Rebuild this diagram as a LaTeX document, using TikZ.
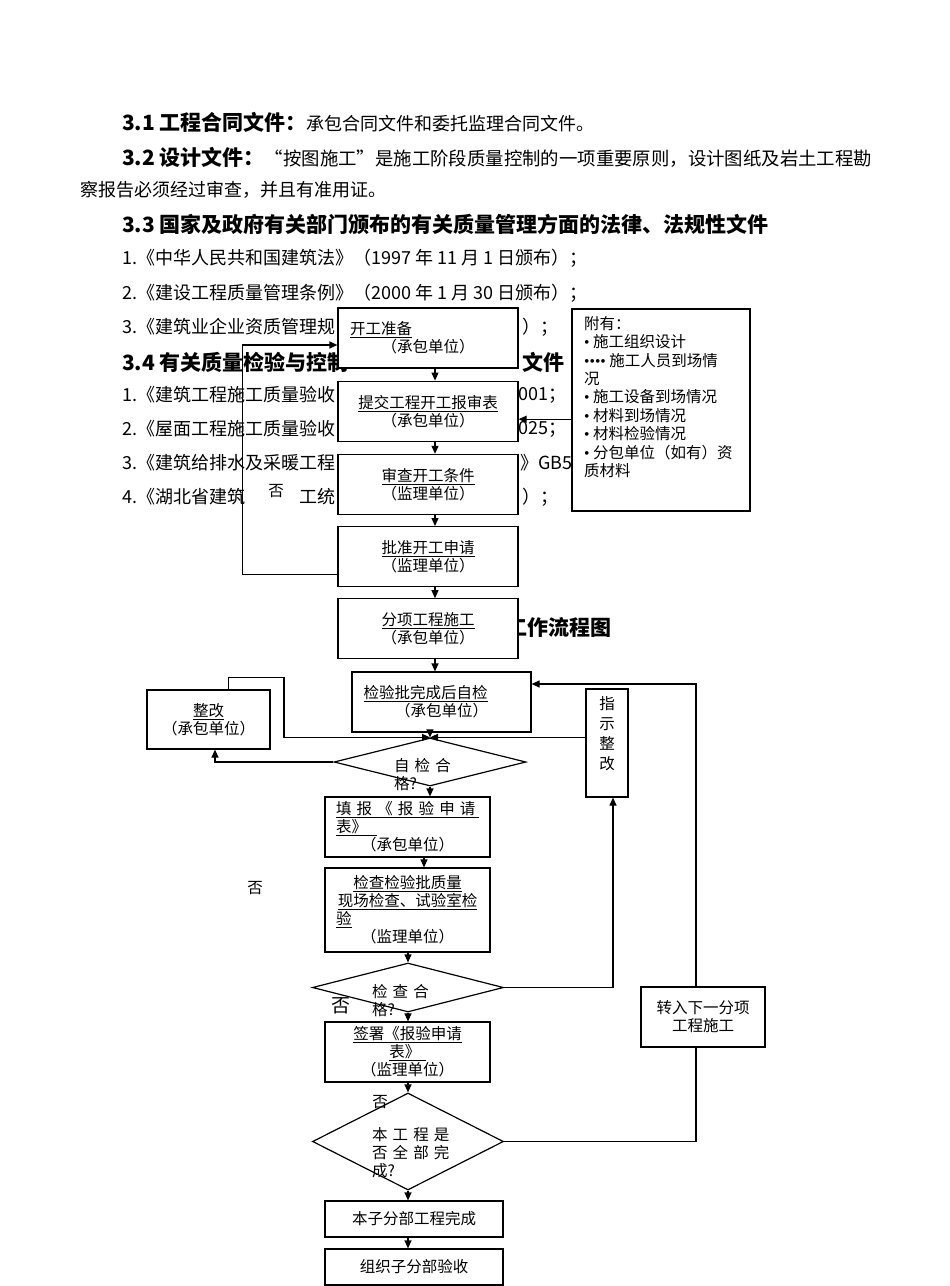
\documentclass[tikz,border=0pt]{standalone}
\usepackage{fontspec}
\setmainfont{Noto Sans CJK SC}
\newfontfamily\latinfont{Liberation Serif}
\usepackage{tikz}
\usetikzlibrary{shapes.geometric, arrows, arrows.meta, positioning}
\newcommand{\bodyfont}{\fontsize{18}{22}\selectfont}
\newcommand{\headfont}{\fontsize{21}{25}\selectfont\bfseries}
\newcommand{\flowfont}{\fontsize{15.5}{18}\selectfont}
\newcommand{\dotmark}{{\latinfont •}}
\tikzstyle{para} = [anchor=west, inner sep=0pt, font=\bodyfont]
\tikzstyle{head} = [anchor=west, inner sep=0pt, font=\headfont]
\tikzstyle{flowbox} = [rectangle, draw=black, line width=1.2pt, fill=white, minimum width=180pt, minimum height=60pt, text width=156pt, align=center, inner sep=0pt, font=\flowfont]
\tikzstyle{smallbox} = [flowbox, minimum width=165pt, text width=143pt]
\tikzstyle{decision} = [diamond, draw=black, line width=1.2pt, fill=white, inner sep=0pt]
\tikzstyle{dtext} = [text width=72pt, align=left, inner sep=0pt, font=\flowfont]
\tikzstyle{nolabel} = [inner sep=0pt, font=\flowfont]
\tikzstyle{arrow} = [line width=1.2pt, -{Triangle[length=8pt,width=7pt]}]
\tikzstyle{wire} = [line width=1.2pt]

\begin{document}
\begin{tikzpicture}[x=1pt, y=-1pt]
\useasboundingbox (0,0) rectangle (950,1286);

% page text behind the chart
\node (t31) [para] at (122,122) {{\headfont 3.1 工程合同文件：}承包合同文件和委托监理合同文件。};
\node (t32) [para] at (122,157) {{\headfont 3.2 设计文件：}{\fontsize{18.4}{22}\selectfont “按图施工”是施工阶段质量控制的一项重要原则，设计图纸及岩土工程勘}};
\node (t32b) [para] at (80,190) {察报告必须经过审查，并且有准用证。};
\node (t33) [head] at (122,224) {3.3 国家及政府有关部门颁布的有关质量管理方面的法律、法规性文件};
\node (law1) [para] at (122,258) {1.《中华人民共和国建筑法》（1997 年 11 月 1 日颁布）；};
\node (law2) [para] at (122,293) {2.《建设工程质量管理条例》（2000 年 1 月 30 日颁布）；};
\node (law3) [para] at (122,327) {3.《建筑业企业资质管理规};
\node (law3r) [para] at (522,327) {）；};
\node (t34) [head] at (122,362) {3.4 有关质量检验与控制};
\node (t34r) [head] at (522,362) {文件};
\node (std1) [para] at (122,395) {1.《建筑工程施工质量验收};
\node (std1r) [para] at (518,395) {001；};
\node (std2) [para] at (122,429) {2.《屋面工程施工质量验收};
\node (std2r) [para] at (518,429) {025；};
\node (std3) [para] at (122,463) {3.《建筑给排水及采暖工程};
\node (std3r) [para] at (520,463) {》GB5};
\node (std4) [para] at (122,497) {4.《湖北省建筑};
\node (std4m) [para] at (299,497) {工统};
\node (std4r) [para] at (522,497) {）；};
\node (t35) [head] at (506,627) {工作流程图};

% start-up column
\node (prep) [flowbox] at (428,338) {\makebox[156pt][l]{\underline{开工准备}}\\（承包单位）};
\node (submit) [flowbox, below=12pt of prep] {\underline{提交工程开工报审表}\\（承包单位）};
\node (review) [flowbox, below=12pt of submit] {\underline{审查开工条件}\\（监理单位）};
\node (approve) [flowbox, below=11pt of review] {\underline{批准开工申请}\\（监理单位）};
\node (build) [flowbox, below=11pt of approve] {\underline{分项工程施工}\\（承包单位）};
\node (selfchk) [flowbox, minimum width=179pt, below=12pt of build, xshift=13.5pt] {\makebox[156pt][l]{\underline{检验批完成后自检}}\\（承包单位）\hspace*{14pt}};
\node (attach) [flowbox, minimum width=178pt, minimum height=202pt] at (661,410) {};
\node (attachT) [anchor=north west, align=left, inner sep=0pt, font=\fontsize{15.5}{18.4}\selectfont] at (584,316) {附有：\\\dotmark\ 施工组织设计\\\dotmark\dotmark\dotmark\dotmark\ 施工人员到场情\\况\\\dotmark\ 施工设备到场情况\\\dotmark\ 材料到场情况\\\dotmark\ 材料检验情况\\\dotmark\ 分包单位（如有）资\\质材料};

% inspection column
\node (selfok) [decision, minimum width=192pt, minimum height=48pt] at (430,762) {};
\node (selfokT) [dtext] at (430,774.5) {\makebox[72pt][s]{自 检 合}\\格?};
\node (fill) [smallbox] at (407.5,827) {\underline{\makebox[143pt][s]{填 报 《 报 验 申 请}}\\\makebox[143pt][l]{\underline{表》\ \ }}\\（承包单位）};
\node (inspect) [smallbox, minimum height=84pt] at (407.5,910) {\underline{检查检验批质量}\\\underline{现场检查、试验室检}\\\makebox[143pt][l]{\underline{验}}\\（监理单位）};
\node (inspok) [decision, minimum width=191pt, minimum height=49pt] at (408,987.5) {};
\node (inspokT) [dtext] at (408,1000.5) {\makebox[72pt][s]{检 查 合}\\格?};
\node (sign) [smallbox] at (407.5,1052) {\underline{签署《报验申请}\\\underline{表》\ }\\（监理单位）};
\node (alldone) [decision, minimum width=191pt, minimum height=97pt] at (408,1141.5) {};
\node (alldoneT) [dtext] at (408,1152.5) {\makebox[72pt][s]{本 工 程 是}\\\makebox[72pt][s]{否 全 部 完}\\成?};
\node (subdone) [flowbox, minimum width=178pt, minimum height=36pt] at (414,1219) {本子分部工程完成};
\node (accept) [flowbox, minimum width=178pt, minimum height=36pt] at (414,1267) {组织子分部验收};

% side boxes
\node (fix) [flowbox, minimum width=123pt, minimum height=59pt, text width=110pt] at (208.5,719.5) {\underline{整改}\\（承包单位）};
\node (guide) [flowbox, minimum width=42pt, minimum height=108pt, text width=20pt, font=\fontsize{15.5}{20}\selectfont] at (607,743) {指\\示\\整\\改\\~};
\node (next) [flowbox, minimum width=124pt, text width=110pt] at (703,1017) {转入下一分项\\工程施工};

\draw [arrow] ([xshift=7pt]prep.south) -- ([xshift=7pt]submit.north);
\draw [arrow] ([xshift=7pt]submit.south) -- ([xshift=7pt]review.north);
\draw [arrow] ([xshift=7pt]review.south) -- ([xshift=7pt]approve.north);
\draw [arrow] ([xshift=7pt]approve.south) -- ([xshift=7pt]build.north);
\draw [arrow] ([xshift=7pt]build.south) -- ([xshift=7pt]build.south |- selfchk.north);
\draw [arrow] (selfchk.south -| selfok.north) -- (selfok.north);
\draw [arrow] (selfok.south) -- (selfok.south |- fill.north);
\draw [arrow] ([xshift=16.5pt]fill.south) -- ([xshift=16.5pt]inspect.north);
\draw [arrow] (inspect.south -| inspok.north) -- (inspok.north);
\draw [arrow] (inspok.south) -- (inspok.south |- sign.north);
\draw [arrow] (sign.south -| alldone.north) -- (alldone.north);
\draw [arrow] (alldone.south) -- (alldone.south |- subdone.north);
\draw [arrow] (subdone.south -| alldone.south) -- (alldone.south |- accept.north);

% loops back
\draw [arrow] ([yshift=-18pt]approve.west) -- ++(-95,0) |- ([yshift=-7pt]prep.west);
\draw [arrow] ([yshift=-8pt]submit.east -| attach.west) -- ([yshift=-8pt]submit.east);
\draw [arrow] (selfok.west) -| ([xshift=6.5pt]fix.south);
\draw [arrow] ([xshift=20pt]fix.north) -- ++(0,-12) -- ++(55.5,0) |- (selfok.north);
\draw [arrow] (guide.west |- selfok.north) -- (selfok.north);
\draw [arrow] (inspok.east) -| ([xshift=6pt]guide.south);
\draw [wire] (alldone.east) -| ([xshift=-7pt]next.south);
\draw [arrow] ([xshift=-7pt]next.north) |- ([yshift=18pt]selfchk.east);

\node (no1) [nolabel] at (276,491) {否};
\node (no2) [nolabel] at (255,888) {否};
\node (no3) [nolabel, font=\fontsize{19}{20}\selectfont] at (341,1006) {否};
\node (no4) [nolabel] at (380,1102) {否};
\end{tikzpicture}
\end{document}
